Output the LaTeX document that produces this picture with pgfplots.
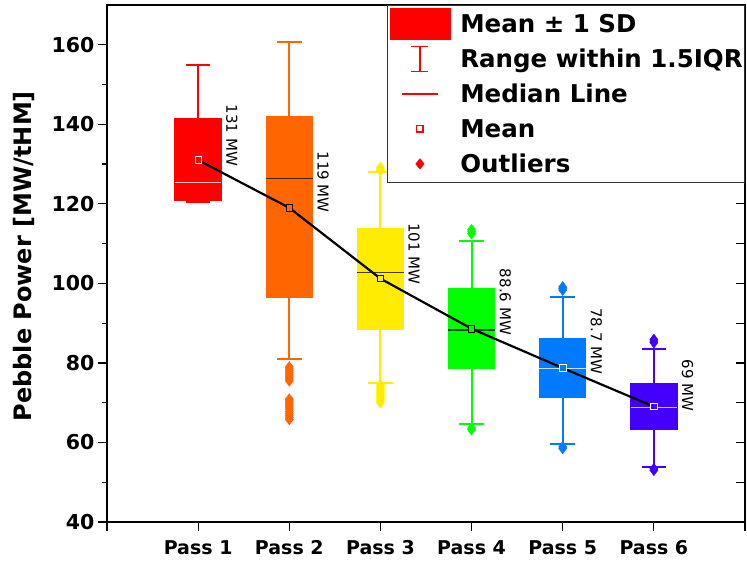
\documentclass[border=0pt]{standalone}
\usepackage{fontspec}
\setmainfont{DejaVu Sans}
\usepackage{pgfplots}
\pgfplotsset{compat=1.18}

\definecolor{c1}{RGB}{255,0,0}
\definecolor{c2}{RGB}{255,102,0}
\definecolor{c3}{RGB}{255,236,0}
\definecolor{c4}{RGB}{0,255,0}
\definecolor{c5}{RGB}{0,122,255}
\definecolor{c6}{RGB}{68,0,255}
\definecolor{m1}{RGB}{255,200,200}
\definecolor{m2}{RGB}{70,35,0}
\definecolor{m3}{RGB}{70,65,0}
\definecolor{m4}{RGB}{0,80,0}
\definecolor{m5}{RGB}{200,225,255}
\definecolor{m6}{RGB}{205,195,255}

\pgfplotsset{
  whisk/.style={forget plot, line width=2pt, unbounded coords=jump, no marks},
  boxf/.style={forget plot, line width=1pt, no marks},
  medl/.style={forget plot, line width=1.2pt, no marks},
  outl/.style={forget plot, only marks, mark=diamond*, mark size=5.5pt, mark options={line width=0.3pt}},
  meanm/.style={forget plot, only marks, mark=square*, mark size=3.2pt},
}

\begin{document}
\begin{tikzpicture}
\path[use as bounding box] (0,0) rectangle (747pt,569pt);
% right-side inward ticks
\begin{axis}[at={(107pt,47pt)}, anchor=south west, scale only axis,
  width=638pt, height=517pt, xmin=0, xmax=7, ymin=40, ymax=170,
  axis line style={draw=none}, xtick=\empty, ytick={50,60,...,160}, yticklabels={},
  ytick pos=right, tick align=inside, major tick length=9pt,
  every tick/.style={black, line width=1.2pt}]
\end{axis}
\begin{axis}[at={(107pt,47pt)}, anchor=south west, scale only axis,
  width=638pt, height=517pt, xmin=0, xmax=7, ymin=40, ymax=170,
  xtick={0,...,7}, xticklabels={,Pass 1,Pass 2,Pass 3,Pass 4,Pass 5,Pass 6,},
  ytick={40,60,...,160}, yticklabels={40,60,80,100,120,140,160},
  minor ytick={50,70,...,150},
  tick pos=left, tick align=outside,
  major tick length=9pt, minor tick length=5pt,
  every tick/.style={black, line width=1.2pt},
  axis line style={line width=1.2pt},
  xticklabel style={font=\bfseries\fontsize{19}{22}\selectfont, yshift=-6pt},
  yticklabel style={font=\bfseries\fontsize{20.5}{24}\selectfont},
  ylabel={Pebble Power [MW/tHM]},
  ylabel style={font=\bfseries\fontsize{24}{28}\selectfont, at={(axis description cs:-0.130,0.514)}, anchor=center},
  legend style={at={(1,1)}, anchor=north east, draw=black!80, line width=0.8pt, fill=white,
    font=\bfseries\fontsize{24.5}{28}\selectfont, inner xsep=2pt, inner ysep=1pt,
    row sep=0pt, column sep=10pt, nodes={inner sep=0pt, text height=26pt, text depth=9pt}},
  legend cell align=left,
]
\addlegendimage{legend image code/.code={\fill[c1] (0pt,-15.5pt) rectangle (60pt,15.5pt);}}
\addlegendentry{Mean ± 1 SD}
\addlegendimage{legend image code/.code={\draw[c1, line width=1.6pt] (21.5pt,-12.5pt) -- (38.5pt,-12.5pt) (30pt,-12.5pt) -- (30pt,12.5pt) (21.5pt,12.5pt) -- (38.5pt,12.5pt);}}
\addlegendentry{Range within 1.5IQR}
\addlegendimage{legend image code/.code={\draw[c1, line width=1.6pt] (12pt,0pt) -- (48pt,0pt);}}
\addlegendentry{Median Line}
\addlegendimage{legend image code/.code={\draw[c1, fill=white, line width=1.3pt] (26.8pt,-3.2pt) rectangle (33.2pt,3.2pt);}}
\addlegendentry{Mean}
\addlegendimage{legend image code/.code={\fill[c1] (30pt,5pt) -- (34pt,0pt) -- (30pt,-5pt) -- (26pt,0pt) -- cycle;}}
\addlegendentry{Outliers}

% ---------- Pass 1 ----------
\addplot[whisk, c1] coordinates {(1,141.4) (1,155) (1,nan) (0.865,155) (1.135,155) (1,nan) (1,120.8) (1,120.4) (1,nan) (0.865,120.4) (1.135,120.4)};
\addplot[boxf, draw=c1, fill=c1] coordinates {(0.745,120.8) (1.255,120.8) (1.255,141.4) (0.745,141.4)} -- cycle;
\addplot[medl, m1] coordinates {(0.745,125.4) (1.255,125.4)};
% ---------- Pass 2 ----------
\addplot[whisk, c2] coordinates {(2,141.9) (2,160.8) (2,nan) (1.865,160.8) (2.135,160.8) (2,nan) (2,96.4) (2,81) (2,nan) (1.865,81) (2.135,81)};
\addplot[boxf, draw=c2, fill=c2] coordinates {(1.745,96.4) (2.255,96.4) (2.255,141.9) (1.745,141.9)} -- cycle;
\addplot[medl, m2] coordinates {(1.745,126.3) (2.255,126.3)};
\addplot[outl, c2] coordinates {(2,79.0) (2,78.5) (2,78.0) (2,77.5) (2,77.0) (2,76.5) (2,76.0) (2,75.5)
  (2,70.9) (2,70.4) (2,69.9) (2,69.4) (2,68.9) (2,68.4) (2,67.8) (2,67.3) (2,66.8) (2,66.3) (2,65.8)};
% ---------- Pass 3 ----------
\addplot[whisk, c3] coordinates {(3,113.9) (3,127.9) (3,nan) (2.865,127.9) (3.135,127.9) (3,nan) (3,88.5) (3,75) (3,nan) (2.865,75) (3.135,75)};
\addplot[boxf, draw=c3, fill=c3] coordinates {(2.745,88.5) (3.255,88.5) (3.255,113.9) (2.745,113.9)} -- cycle;
\addplot[medl, m3] coordinates {(2.745,102.8) (3.255,102.8)};
\addplot[outl, c3] coordinates {(3,74.5) (3,74.0) (3,73.5) (3,73.0) (3,72.5) (3,72.0) (3,71.5) (3,71.0) (3,70.5) (3,70.0)
  (3,129.1) (3,128.7) (3,128.4)};
% ---------- Pass 4 ----------
\addplot[whisk, c4] coordinates {(4,98.6) (4,110.6) (4,nan) (3.865,110.6) (4.135,110.6) (4,nan) (4,78.5) (4,64.7) (4,nan) (3.865,64.7) (4.135,64.7)};
\addplot[boxf, draw=c4, fill=c4] coordinates {(3.745,78.5) (4.255,78.5) (4.255,98.6) (3.745,98.6)} -- cycle;
\addplot[medl, m4] coordinates {(3.745,88.3) (4.255,88.3)};
\addplot[outl, c4] coordinates {(4,113.5) (4,113.0) (4,112.5) (4,63.6) (4,63.2)};
% ---------- Pass 5 ----------
\addplot[whisk, c5] coordinates {(5,86.2) (5,96.5) (5,nan) (4.865,96.5) (5.135,96.5) (5,nan) (5,71.3) (5,59.7) (5,nan) (4.865,59.7) (5.135,59.7)};
\addplot[boxf, draw=c5, fill=c5] coordinates {(4.745,71.3) (5.255,71.3) (5.255,86.2) (4.745,86.2)} -- cycle;
\addplot[medl, m5] coordinates {(4.745,78.6) (5.255,78.6)};
\addplot[outl, c5] coordinates {(5,99.1) (5,98.7) (5,98.3) (5,58.9) (5,58.5)};
% ---------- Pass 6 ----------
\addplot[whisk, c6] coordinates {(6,74.7) (6,83.6) (6,nan) (5.865,83.6) (6.135,83.6) (6,nan) (6,63.2) (6,53.9) (6,nan) (5.865,53.9) (6.135,53.9)};
\addplot[boxf, draw=c6, fill=c6] coordinates {(5.745,63.2) (6.255,63.2) (6.255,74.7) (5.745,74.7)} -- cycle;
\addplot[medl, m6] coordinates {(5.745,68.8) (6.255,68.8)};
\addplot[outl, c6] coordinates {(6,85.9) (6,85.5) (6,85.1) (6,53.4) (6,53.0)};

% mean line
\addplot[forget plot, black, line width=2.2pt, no marks] coordinates {(1,131) (2,119) (3,101.2) (4,88.6) (5,78.7) (6,69)};
% mean markers
\addplot[meanm, mark options={fill=c1, draw=white, line width=0.8pt}] coordinates {(1,131)};
\addplot[meanm, mark options={fill=c2, draw=black, line width=0.8pt}] coordinates {(2,119)};
\addplot[meanm, mark options={fill=c3, draw=black, line width=0.8pt}] coordinates {(3,101.2)};
\addplot[meanm, mark options={fill=c4, draw=black, line width=0.8pt}] coordinates {(4,88.6)};
\addplot[meanm, mark options={fill=c5, draw=white, line width=0.8pt}] coordinates {(5,78.7)};
\addplot[meanm, mark options={fill=c6, draw=white, line width=0.8pt}] coordinates {(6,69)};

% value labels
\begin{scope}[every node/.style={rotate=-90, anchor=east, inner sep=0pt, font=\fontsize{15}{17}\selectfont}]
\node at (axis cs:1.37,129.5) {131 MW};
\node at (axis cs:2.37,117.7) {119 MW};
\node at (axis cs:3.37,99.7) {101 MW};
\node at (axis cs:4.37,87.0) {88.6 MW};
\node at (axis cs:5.37,77.1) {78.7 MW};
\node at (axis cs:6.37,67.8) {69 MW};
\end{scope}
\end{axis}
\end{tikzpicture}
\end{document}
